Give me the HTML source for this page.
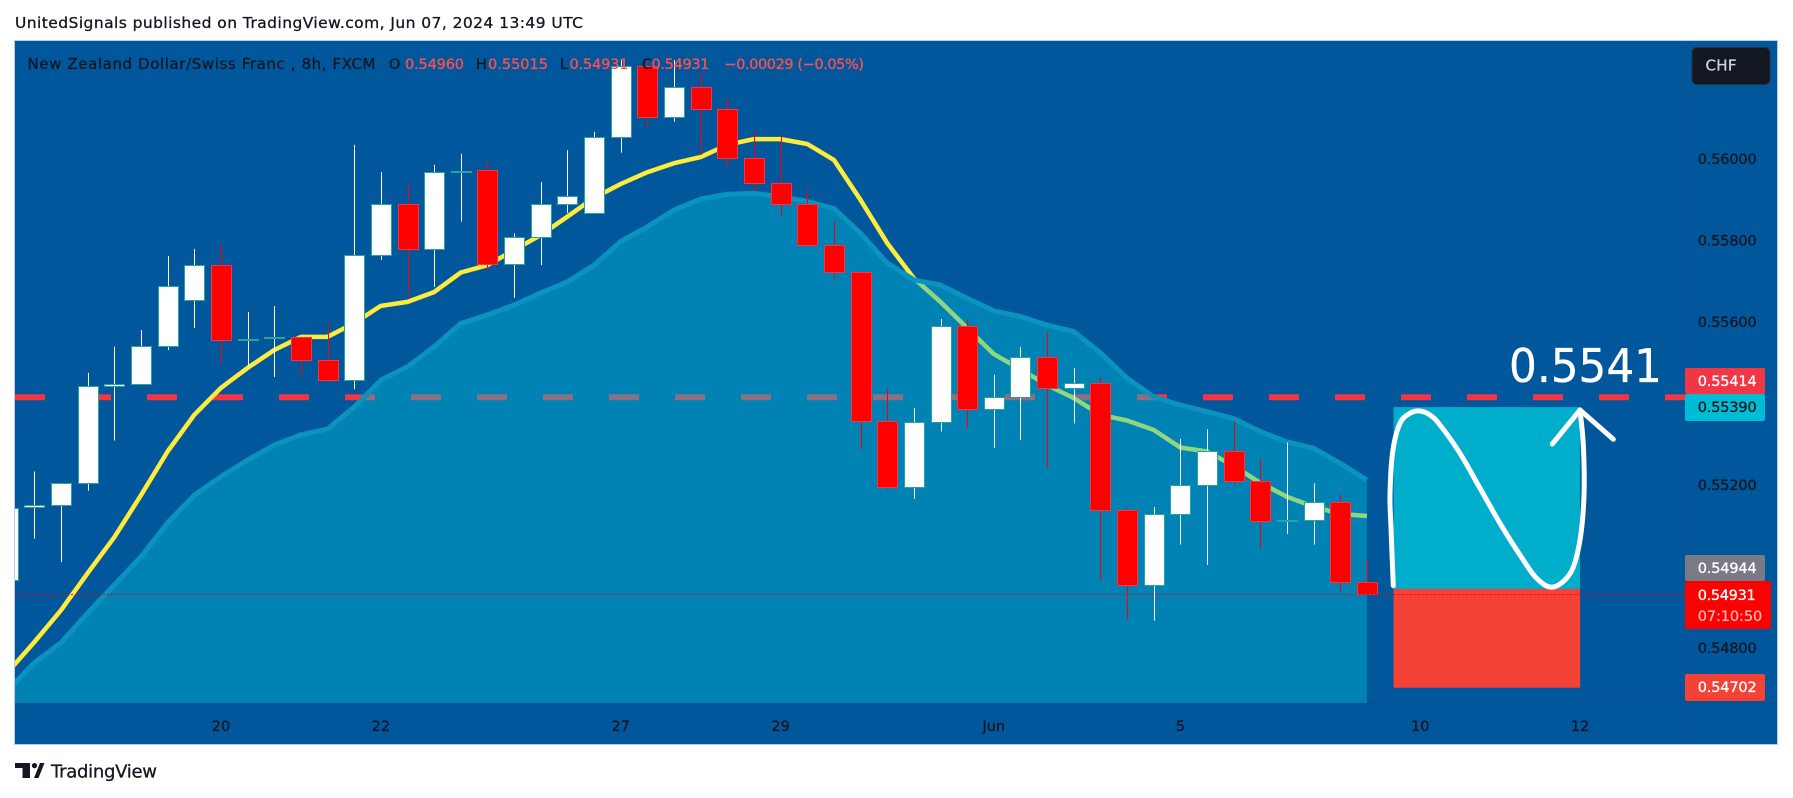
<!DOCTYPE html>
<html lang="en">
<head>
<meta charset="utf-8">
<title>NZD/CHF 8h chart</title>
<style>
html,body{margin:0;padding:0;background:#fff;width:1793px;height:798px;overflow:hidden}
svg{display:block}
text{font-family:"DejaVu Sans","Liberation Sans",sans-serif;font-size:14.5px}
</style>
</head>
<body>
<svg id="chart" xmlns="http://www.w3.org/2000/svg" width="1793" height="798" viewBox="0 0 1793 798">
  <defs>
    <clipPath id="pane-clip"><rect x="15" y="41" width="1670" height="662"/></clipPath>
  </defs>
  <rect x="0" y="0" width="1793" height="798" fill="#ffffff"/>
  <text x="15" y="28" style="font-size:15.5px" fill="#131722" textLength="568">UnitedSignals published on TradingView.com, Jun 07, 2024 13:49 UTC</text>

  <rect x="14.5" y="40.5" width="1763" height="704" fill="#01579b" stroke="#bccfe2" stroke-width="1"/>
  <line x1="1685.5" y1="41" x2="1685.5" y2="744" stroke="#0f4f8a" stroke-width="1"/>
  <line x1="15" y1="703.5" x2="1777" y2="703.5" stroke="#0f4f8a" stroke-width="1"/>

  <g id="pane" clip-path="url(#pane-clip)"></g>
  <g id="position" clip-path="url(#pane-clip)"></g>

  <g fill="none" stroke="#ffffff" stroke-width="5" stroke-linecap="round" stroke-linejoin="round">
    <path d="M1393.3 585.7 C1392.9 576.1,1391.55 543.1,1391 528 C1390.45 512.9,1389.72 507.7,1390 495 C1390.28 482.3,1391.03 463.65,1392.7 451.7 C1394.37 439.75,1397.12 429.7,1400 423.3 C1402.88 416.9,1406.67 415.35,1410 413.3 C1413.33 411.25,1416.67 410.72,1420 411 C1423.33 411.28,1426.67 412.67,1430 415 C1433.33 417.33,1435 418.62,1440 425 C1445 431.38,1453.33 442.75,1460 453.3 C1466.67 463.85,1473.33 476.63,1480 488.3 C1486.67 499.97,1493.33 512.18,1500 523.3 C1506.67 534.42,1513.88 545.83,1520 555 C1526.12 564.17,1531.15 572.97,1536.7 578.3 C1542.25 583.63,1547.58 588.05,1553.3 587 C1559.02 585.95,1566.55 579.83,1571 572 C1575.45 564.17,1577.83 552.83,1580 540 C1582.17 527.17,1583.45 510.83,1584 495 C1584.55 479.17,1583.97 459.17,1583.3 445 C1582.63 430.83,1580.55 415.83,1580 410"/>
    <path d="M1552.3 444 L1580 410 L1613.3 439.3"/>
  </g>
  <text x="1509" y="382" style="font-size:46px" fill="#ffffff" textLength="153" lengthAdjust="spacingAndGlyphs">0.5541</text>

  <g>
    <text x="27.5" y="69" style="font-size:15px" fill="#131722" textLength="348">New Zealand Dollar/Swiss Franc , 8h, FXCM</text>
    <text x="389" y="69" fill="#131722">O</text>
    <text x="405" y="69" fill="#ff4f4f" textLength="59">0.54960</text>
    <text x="476" y="69" fill="#131722">H</text>
    <text x="488" y="69" fill="#ff4f4f" textLength="60">0.55015</text>
    <text x="560" y="69" fill="#131722">L</text>
    <text x="569.5" y="69" fill="#ff4f4f" textLength="59">0.54931</text>
    <text x="642" y="69" fill="#131722">C</text>
    <text x="651.5" y="69" fill="#ff4f4f" textLength="58">0.54931</text>
    <text x="724.4" y="69" fill="#ff4f4f" textLength="139.6">−0.00029 (−0.05%)</text>
  </g>

  <g id="price-axis"></g>
  <g id="time-axis"></g>

  <g>
    <rect x="1692" y="47.5" width="78" height="37" rx="5" fill="#131722" stroke="#2a2e39" stroke-width="1"/>
    <text x="1705.5" y="70.5" style="font-size:15px" fill="#d1d4dc" textLength="31">CHF</text>
  </g>

  <g>
    <rect x="1685" y="368" width="80" height="26" rx="2" fill="#f23645"/>
    <text x="1697.7" y="386" fill="#ffffff" textLength="59">0.55414</text>
    <rect x="1685" y="394" width="80" height="27" rx="2" fill="#00bcd4"/>
    <text x="1697.7" y="412" fill="#131722" textLength="59">0.55390</text>
    <rect x="1685" y="555" width="80" height="26" rx="2" fill="#787b86"/>
    <text x="1697.7" y="573" fill="#ffffff" textLength="59">0.54944</text>
    <rect x="1685" y="581" width="86" height="48" rx="2" fill="#ff0000"/>
    <text x="1697.7" y="600" fill="#ffffff" textLength="58">0.54931</text>
    <text x="1697.7" y="621" fill="#ffb3b3" textLength="64.5">07:10:50</text>
    <rect x="1685" y="674" width="80" height="27" rx="2" fill="#f44336"/>
    <text x="1697.7" y="692" fill="#ffffff" textLength="59">0.54702</text>
  </g>

  <g>
    <path fill="#131722" d="M15 763H30V778H22.5V768H15Z M34 778L40 763H44.5L38.5 778Z"/>
    <circle cx="34.5" cy="765.6" r="2.6" fill="#131722"/>
    <text x="51" y="777.7" style="font-size:18px" fill="#131722" textLength="106">TradingView</text>
  </g>
</svg>

<script>
// Candle values (first entry is the partially visible bar at the left edge)
const opens = [0.54966,0.55144,0.55149,0.55203,0.55441,0.55446,0.55539,0.55652,0.55738,0.55554,0.55561,0.55561,0.55505,0.55456,0.55762,0.55889,0.55777,0.55966,0.55971,0.55740,0.55808,0.55889,0.55866,0.56051,0.56226,0.56101,0.56174,0.56120,0.56000,0.55939,0.55887,0.55787,0.55720,0.55355,0.55193,0.55353,0.55588,0.55385,0.55414,0.55512,0.55436,0.55448,0.55137,0.54955,0.55127,0.55198,0.55283,0.55208,0.55111,0.55112,0.55158,0.54960];
const highs = [0.55143,0.55232,0.55203,0.55474,0.55538,0.55579,0.55760,0.55778,0.55790,0.55623,0.55638,0.55561,0.55595,0.56033,0.55966,0.55939,0.55984,0.56011,0.55993,0.55816,0.55942,0.56020,0.56065,0.56241,0.56241,0.56241,0.56208,0.56147,0.56065,0.56057,0.55922,0.55846,0.55724,0.55434,0.55388,0.55606,0.55604,0.55469,0.55537,0.55575,0.55486,0.55464,0.55143,0.55145,0.55312,0.55336,0.55355,0.55262,0.55303,0.55203,0.55176,0.55015];
const lows = [0.54966,0.55067,0.55010,0.55185,0.55308,0.55446,0.55530,0.55584,0.55497,0.55487,0.55464,0.55464,0.55450,0.55434,0.55751,0.55663,0.55685,0.55845,0.55724,0.55658,0.55738,0.55866,0.55866,0.56014,0.56076,0.56090,0.56008,0.55979,0.55918,0.55859,0.55782,0.55703,0.55286,0.55188,0.55165,0.55330,0.55339,0.55290,0.55309,0.55240,0.55350,0.54966,0.54870,0.54866,0.55053,0.55003,0.55198,0.55043,0.55079,0.55053,0.54939,0.54931];
const closes = [0.55143,0.55149,0.55203,0.55441,0.55446,0.55539,0.55686,0.55738,0.55554,0.55558,0.55562,0.55505,0.55456,0.55762,0.55889,0.55777,0.55966,0.55970,0.55740,0.55808,0.55889,0.55907,0.56051,0.56226,0.56101,0.56174,0.56120,0.56000,0.55939,0.55887,0.55787,0.55720,0.55355,0.55193,0.55353,0.55588,0.55385,0.55414,0.55512,0.55436,0.55448,0.55137,0.54955,0.55127,0.55198,0.55283,0.55208,0.55110,0.55112,0.55158,0.54960,0.54931];

// Moving averages: fast line and slow area
const fastAverage = [0.54740,0.54814,0.54892,0.54983,0.55071,0.55174,0.55281,0.55371,0.55437,0.55486,0.55530,0.55562,0.55562,0.55596,0.55638,0.55648,0.55672,0.55720,0.55738,0.55775,0.55812,0.55857,0.55903,0.55937,0.55966,0.55988,0.56003,0.56033,0.56047,0.56047,0.56035,0.55996,0.55898,0.55792,0.55706,0.55648,0.55584,0.55520,0.55483,0.55444,0.55412,0.55371,0.55357,0.55334,0.55291,0.55281,0.55246,0.55204,0.55170,0.55146,0.55128,0.55123];
const slowAverage = [0.54696,0.54763,0.54812,0.54885,0.54954,0.55023,0.55106,0.55174,0.55219,0.55260,0.55297,0.55322,0.55336,0.55390,0.55456,0.55489,0.55538,0.55595,0.55616,0.55640,0.55670,0.55697,0.55738,0.55796,0.55832,0.55873,0.55900,0.55912,0.55914,0.55906,0.55894,0.55877,0.55816,0.55743,0.55702,0.55689,0.55657,0.55626,0.55612,0.55591,0.55575,0.55523,0.55461,0.55415,0.55395,0.55379,0.55362,0.55330,0.55305,0.55289,0.55252,0.55211];

// Axis labels
const priceTicks = [0.56000,0.55800,0.55600,0.55200,0.54800];
const timeTickLabels = ['20','22','27','29','Jun','5','10','12'];
const timeTickBars = [8,14,23,29,37,44,53,59];

// Horizontal levels and position tool
const alertLevel = [0.55414];
const lastPrice = [0.54931];
const positionPrices = [0.55390,0.54944,0.54702];
const positionBars = [52,59];

function xScale(i){ return 7.75 + 26.65*i; }
function yScale(p){ return 158.3 + (0.56 - p)*40785; }

const NS = 'http://www.w3.org/2000/svg';
const pane = document.getElementById('pane');
const PANE_BOTTOM = 703;

function make(tag, parent){
  const el = document.createElementNS(NS, tag);
  parent.appendChild(el);
  return el;
}

// alert level (drawn beneath the area so it greys out)
const alertLine = make('line', pane);


alertLine.setAttribute('x1', 15);
alertLine.setAttribute('x2', 1685);
alertLine.setAttribute('y1', yScale(alertLevel[0]));
alertLine.setAttribute('y2', yScale(alertLevel[0]));
alertLine.setAttribute('stroke', '#f23645');
alertLine.setAttribute('stroke-width', 6);
alertLine.setAttribute('stroke-dasharray', '30 36');

function linePath(values){
  return values.map(function(v, i){
    return (i ? 'L' : 'M') + xScale(i).toFixed(1) + ' ' + yScale(v).toFixed(1);
  }).join(' ');
}

// fast average
const fastLine = make('path', pane);


fastLine.setAttribute('d', linePath(fastAverage));
fastLine.setAttribute('fill', 'none');
fastLine.setAttribute('stroke', '#ffeb3b');
fastLine.setAttribute('stroke-width', 4.5);
fastLine.setAttribute('stroke-linejoin', 'round');

// slow average area
const slowArea = make('path', pane);


slowArea.setAttribute('d', linePath(slowAverage) + ' L' + xScale(slowAverage.length - 1) + ' ' + PANE_BOTTOM + ' L' + xScale(0) + ' ' + PANE_BOTTOM + ' Z');
slowArea.setAttribute('fill', '#00bcd4');
slowArea.setAttribute('fill-opacity', '0.44');

const slowLine = make('path', pane);


slowLine.setAttribute('d', linePath(slowAverage));
slowLine.setAttribute('fill', 'none');
slowLine.setAttribute('stroke', '#0a93bf');
slowLine.setAttribute('stroke-width', 5);
slowLine.setAttribute('stroke-linejoin', 'round');

// candles
for (let i = 0; i < opens.length; i++) {
  const up = closes[i] >= opens[i];
  const x = Math.round(xScale(i));
  const wick = make('line', pane);
  
  
  wick.setAttribute('x1', x + 0.5);
  wick.setAttribute('x2', x + 0.5);
  wick.setAttribute('y1', yScale(highs[i]));
  wick.setAttribute('y2', yScale(lows[i]));
  wick.setAttribute('stroke', up ? '#ffffff' : '#ff0000');
  wick.setAttribute('stroke-width', 1);

  const top = Math.round(yScale(Math.max(opens[i], closes[i])));
  const bottom = Math.round(yScale(Math.min(opens[i], closes[i])));
  const body = make('rect', pane);
  
  
  body.setAttribute('x', x - 9.5);
  body.setAttribute('width', 20);
  body.setAttribute('y', top + 0.5);
  body.setAttribute('height', Math.max(bottom - top, 1));
  body.setAttribute('fill', up ? '#ffffff' : '#ff0000');
  body.setAttribute('stroke', up ? '#26a69a' : '#f23645');
  body.setAttribute('stroke-width', 1);
}

// last price dotted line
const lastLine = make('line', pane);


lastLine.setAttribute('x1', 15);
lastLine.setAttribute('x2', 1685);
lastLine.setAttribute('y1', Math.round(yScale(lastPrice[0])) + 0.5);
lastLine.setAttribute('y2', Math.round(yScale(lastPrice[0])) + 0.5);
lastLine.setAttribute('stroke', '#ff0000');
lastLine.setAttribute('stroke-width', 1);
lastLine.setAttribute('stroke-dasharray', '2 2');

// position tool
const position = document.getElementById('position');
const profitBox = make('rect', position);


profitBox.setAttribute('x', xScale(positionBars[0]));
profitBox.setAttribute('width', xScale(positionBars[1]) - xScale(positionBars[0]));
profitBox.setAttribute('y', yScale(positionPrices[0]));
profitBox.setAttribute('height', yScale(positionPrices[1]) - yScale(positionPrices[0]));
profitBox.setAttribute('fill', '#00aecb');

const lossBox = make('rect', position);


lossBox.setAttribute('x', xScale(positionBars[0]));
lossBox.setAttribute('width', xScale(positionBars[1]) - xScale(positionBars[0]));
lossBox.setAttribute('y', yScale(positionPrices[1]));
lossBox.setAttribute('height', yScale(positionPrices[2]) - yScale(positionPrices[1]));
lossBox.setAttribute('fill', '#f44336');

const lossDots = make('line', position);


lossDots.setAttribute('x1', xScale(positionBars[0]));
lossDots.setAttribute('x2', xScale(positionBars[1]));
lossDots.setAttribute('y1', Math.round(yScale(lastPrice[0])) + 0.5);
lossDots.setAttribute('y2', Math.round(yScale(lastPrice[0])) + 0.5);
lossDots.setAttribute('stroke', '#ff0000');
lossDots.setAttribute('stroke-width', 1);
lossDots.setAttribute('stroke-dasharray', '2 2');

// axes
const priceAxis = document.getElementById('price-axis');
priceTicks.forEach(function(p){
  const t = make('text', priceAxis);
  
  
  t.setAttribute('x', 1697.7);
  t.setAttribute('y', yScale(p) + 5.5);
  t.setAttribute('fill', '#131722');
  t.setAttribute('textLength', 59);
  t.textContent = p.toFixed(5);
});

const timeAxis = document.getElementById('time-axis');
timeTickLabels.forEach(function(label, k){
  const t = make('text', timeAxis);
  
  
  t.setAttribute('x', xScale(timeTickBars[k]));
  t.setAttribute('y', 731);
  t.setAttribute('fill', '#131722');
  t.setAttribute('text-anchor', 'middle');
  t.textContent = label;
});

// give all labels the slightly heavier weight seen in the reference
document.querySelectorAll('text').forEach(function(t){
  t.setAttribute('stroke', t.getAttribute('fill'));
  t.setAttribute('stroke-width', '0.3');
});
</script>
</body>
</html>
